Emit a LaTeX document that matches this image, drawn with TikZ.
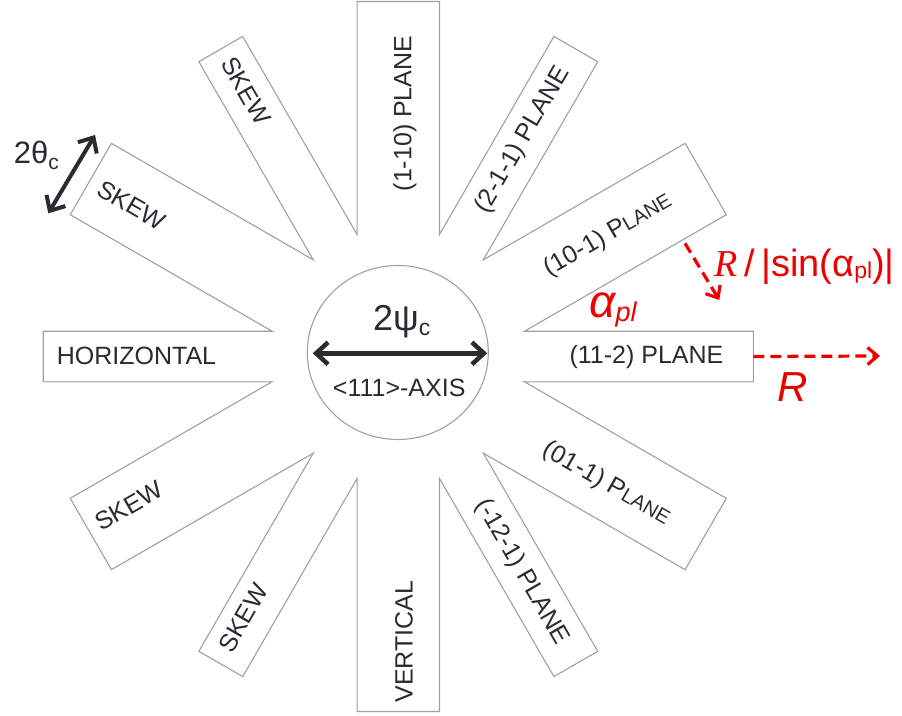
\documentclass[tikz,border=0pt]{standalone}
\usepackage{fontspec}
\setmainfont{Liberation Sans}
\newfontfamily\timesfont{Liberation Serif}
\usetikzlibrary{arrows.meta,calc,shapes.geometric}

\definecolor{rimgray}{RGB}{160,160,160}
\definecolor{inkdark}{RGB}{42,42,48}
\definecolor{hotred}{RGB}{236,0,0}
\newcommand{\lblfont}{\fontsize{25}{30}\selectfont}
\newcommand{\scLane}[1]{{\fontsize{20}{24}\selectfont #1}}
\newcommand{\lowsub}[2]{\raisebox{-#1}{#2}}

\begin{document}
\begin{tikzpicture}[x=1pt,y=1pt,
    every node/.style = {text=inkdark, font=\lblfont, inner sep=0pt},
    rim/.style        = {draw=rimgray, line width=1.1pt, line join=miter},
    dblarrow/.style   = {draw=inkdark, line width=4.5pt,
      {Straight Barb[length=12pt,width=22pt]}-{Straight Barb[length=12pt,width=22pt]}},
    redarrow/.style   = {draw=hotred, line width=3.2pt, dash pattern=on 11pt off 6pt,
      -{Straight Barb[length=10pt,width=17pt]}},
    redlabel/.style   = {text=hotred},
  ]
  \useasboundingbox (-398.3,-358.5) rectangle (503.7,356.5);

  % corners of the twelve rays, wide and narrow in turn
  \foreach \i in {0,...,11}{
    \pgfmathsetmacro{\a}{30*\i}
    \pgfmathsetmacro{\w}{mod(\i,2)==1 ? 41.2 : 25.3}
    \pgfmathsetmacro{\wn}{mod(\i,2)==1 ? 25.3 : 41.2}
    \pgfmathsetmacro{\s}{2*(0.866*\w+\wn)}
    \coordinate (e\i) at (\a:355);
    \coordinate (r\i) at ($(\a:355)+(\a-90:\w)$);
    \coordinate (l\i) at ($(\a:355)+(\a+90:\w)$);
    \coordinate (v\i) at ($(\a:\s)+(\a+90:\w)$);
  }
  \draw[rim] (v11) \foreach \i in {0,...,10}{ -- (r\i) -- (l\i) -- (v\i)}
    -- (r11) -- (l11) -- cycle;

  % the axis
  \node[draw=rimgray, line width=1.1pt, ellipse, minimum width=181pt,
    minimum height=174pt] (axis) at (-0.5,4) {};
  \node[font=\fontsize{36}{40}\selectfont] (psi) at (3.4,34.8)
    {2ψ\lowsub{5pt}{\fontsize{23}{23}\selectfont c}};
  \node (axlabel) at (0.9,-31.2) {<111>-AXIS};
  \draw[dblarrow] ([xshift=6pt,yshift=-0.8pt]axis.west) -- ([xshift=-1.6pt,yshift=-0.8pt]axis.east);

  % planes
  \node (pl112) at (248.2,-0.2) {(11-2) PLANE};
  \node[rotate=30] (pl101) at (209.7,121.5) {(10-1) P\scLane{LANE}};
  \node[rotate=60] (pl211) at (124.7,216.5) {(2-1-1) PLANE};
  \node[rotate=90] (pl110) at (6.7,243) {(1-10) PLANE};
  \node[rotate=-60] (skewa) at (-152.3,265.5) {SKEW};
  \node[rotate=-30] (skewb) at (-266.6,151.5) {SKEW};
  \node (horiz) at (-261.8,0.5) {HORIZONTAL};
  \node[rotate=30] (skewc) at (-269.3,-149.5) {SKEW};
  \node[rotate=60] (skewd) at (-155.3,-261.5) {SKEW};
  \node[rotate=90] (vert) at (5.7,-285) {VERTICAL};
  \node[rotate=-60] (pl121) at (123.4,-215.5) {(-12-1) PLANE};
  \node[rotate=-30] (pl011) at (208.4,-127.5) {(01-1) P\scLane{LANE}};

  % critical angle of a plane
  \coordinate (tha) at (-303.3,221.5);
  \coordinate (thb) at (-350,143.2);
  \draw[dblarrow, line width=4pt] (tha) -- (thb);
  \node[font=\fontsize{31}{34}\selectfont] (theta) at (-362,201.5)
    {2θ\lowsub{6pt}{\fontsize{21}{21}\selectfont c}};

  % distances
  \coordinate (rend) at (481.7,0.5);
  \draw[redarrow] (e0) -- (rend);
  \node[redlabel, font=\fontsize{42}{46}\selectfont\itshape] (rlab) at (394.7,-30.5) {R};
  \coordinate (sa) at (286.7,113.2);
  \coordinate (sb) at (321,56.5);
  \draw[redarrow] (sa) -- (sb);
  \node[redlabel, font=\fontsize{46}{50}\selectfont\itshape] (alpha) at (214.7,46.5)
    {α\lowsub{4pt}{\fontsize{27}{27}\selectfont pl}};
  \node[redlabel, font=\fontsize{38}{42}\selectfont] (rsin) at (406.5,89.8)
    {{\timesfont\itshape R}\,/\,|sin(α\lowsub{2pt}{\fontsize{23}{23}\selectfont pl})|};
\end{tikzpicture}
\end{document}
